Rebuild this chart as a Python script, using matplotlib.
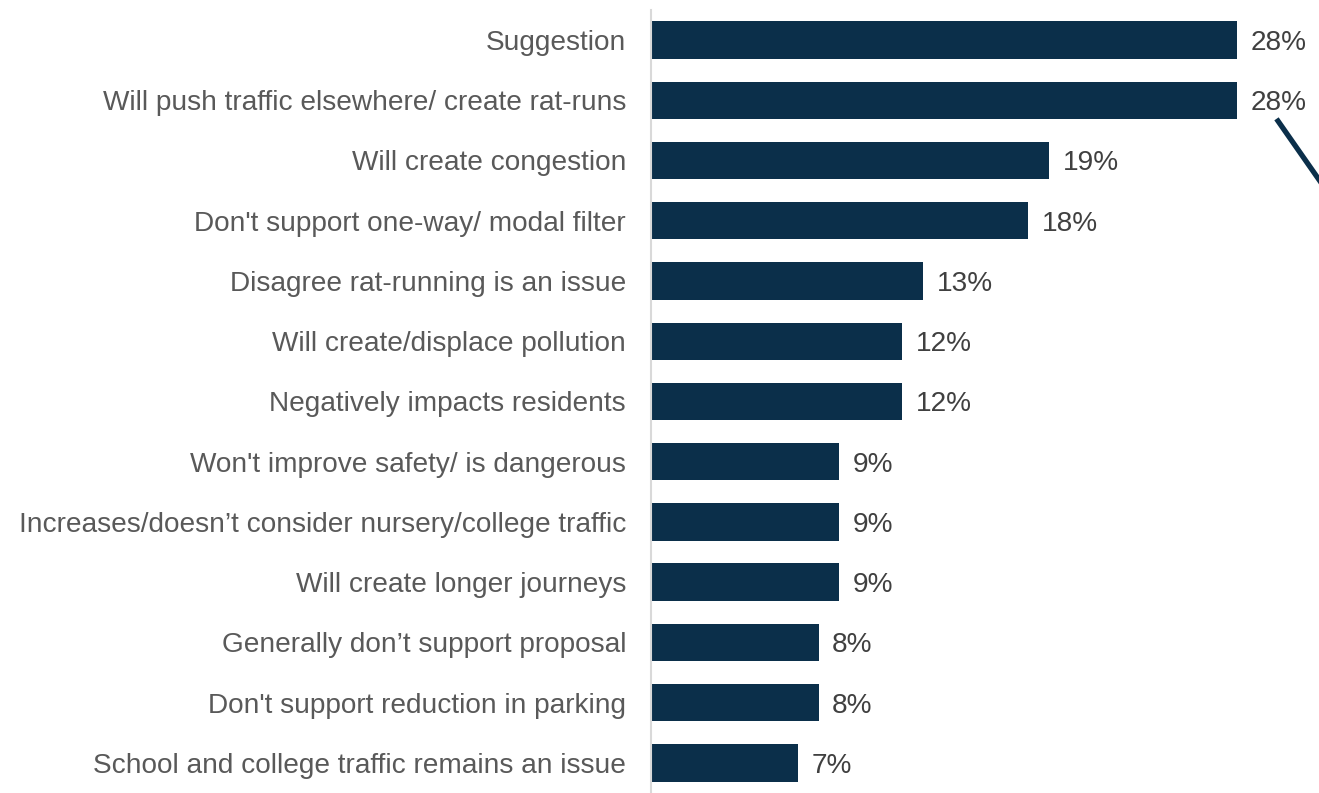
import matplotlib
matplotlib.use("Agg")
import matplotlib.pyplot as plt
from matplotlib.lines import Line2D

plt.rcParams['font.family'] = ['Liberation Sans', 'DejaVu Sans']

categories = [
    "Suggestion",
    "Will push traffic elsewhere/ create rat-runs",
    "Will create congestion",
    "Don't support one-way/ modal filter",
    "Disagree rat-running is an issue",
    "Will create/displace pollution",
    "Negatively impacts residents",
    "Won't improve safety/ is dangerous",
    "Increases/doesn\u2019t consider nursery/college traffic",
    "Will create longer journeys",
    "Generally don\u2019t support proposal",
    "Don't support reduction in parking",
    "School and college traffic remains an issue",
]
values = [28, 28, 19, 18, 13, 12, 12, 9, 9, 9, 8, 8, 7]

bar_color = "#0B2F4A"

fig = plt.figure(figsize=(13.19, 7.93), dpi=100)
ax = fig.add_axes([651 / 1319, 0, 1 - 651 / 1319, 1])

ypos = list(range(len(categories)))
ax.barh(ypos, values, height=0.62, color=bar_color)
ax.set_ylim(12.5, -0.664)
ax.set_xlim(0, 31.9)

ax.set_yticks(ypos)
ax.set_yticklabels(categories, fontsize=20.2, color="#595959")
ax.tick_params(axis='y', length=0, pad=18)
ax.set_xticks([])

for s in ["top", "right", "bottom"]:
    ax.spines[s].set_visible(False)
ax.spines["left"].set_color("#D9D9D9")
ax.spines["left"].set_linewidth(1.5)
ax.spines["left"].set_bounds(12.5, -0.5)

for y, v in zip(ypos, values):
    ax.text(v + 0.65, y, f"{v}%", va="center_baseline", ha="left",
            fontsize=20.2, color="#404040")

# connector stub running off the right edge
fig.add_artist(Line2D([1278 / 1319, 1322 / 1319], [1 - 121 / 793, 1 - 184 / 793],
                      color=bar_color, linewidth=3.8, transform=fig.transFigure))

fig.savefig("out.png", dpi=100)
